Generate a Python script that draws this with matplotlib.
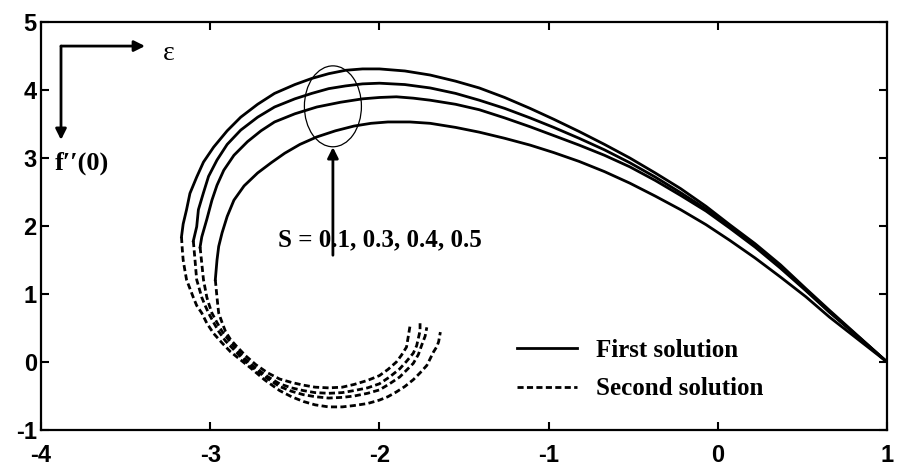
# dual solutions of f''(0) against epsilon for several suction values S

import matplotlib.pyplot as plt
from matplotlib.lines import Line2D
from matplotlib.patches import Ellipse

plt.rcParams['font.family'] = ['Liberation Sans', 'DejaVu Sans']
plt.rcParams['axes.unicode_minus'] = False

s_values = [0.1, 0.3, 0.4, 0.5]

# first (upper) branch, read from x = 1 leftwards
eps_first_s01 = [1.00, 0.83, 0.66, 0.52, 0.37, 0.22, 0.07, -0.07, -0.22, -0.37, -0.52, -0.67, -0.82, -0.97,
                 -1.11, -1.26, -1.41, -1.55, -1.70, -1.85, -2.00, -2.10, -2.20, -2.30, -2.40, -2.50, -2.62,
                 -2.72, -2.82, -2.90, -2.98, -3.04, -3.08, -3.12, -3.14, -3.16, -3.17]
fpp_first_s01 = [0.00, 0.38, 0.76, 1.08, 1.43, 1.74, 2.02, 2.29, 2.55, 2.78, 3.00, 3.20, 3.39, 3.57,
                 3.73, 3.89, 4.03, 4.13, 4.22, 4.28, 4.31, 4.31, 4.29, 4.24, 4.17, 4.08, 3.95,
                 3.79, 3.60, 3.40, 3.16, 2.94, 2.72, 2.48, 2.24, 2.03, 1.84]

eps_first_s03 = [1.00, 0.83, 0.66, 0.52, 0.37, 0.22, 0.07, -0.07, -0.22, -0.37, -0.52, -0.67, -0.82, -0.97,
                 -1.11, -1.26, -1.41, -1.55, -1.70, -1.85, -2.00, -2.10, -2.20, -2.30, -2.40, -2.50, -2.62,
                 -2.72, -2.82, -2.90, -2.96, -3.01, -3.04, -3.07, -3.08, -3.10]
fpp_first_s03 = [0.00, 0.37, 0.74, 1.06, 1.40, 1.71, 1.99, 2.25, 2.49, 2.72, 2.93, 3.12, 3.29, 3.45,
                 3.59, 3.73, 3.85, 3.95, 4.03, 4.08, 4.10, 4.09, 4.06, 4.02, 3.95, 3.87, 3.75,
                 3.60, 3.41, 3.20, 2.97, 2.73, 2.49, 2.24, 1.99, 1.78]

eps_first_s04 = [1.00, 0.83, 0.66, 0.52, 0.37, 0.22, 0.07, -0.07, -0.22, -0.37, -0.52, -0.67, -0.82, -0.97,
                 -1.11, -1.26, -1.41, -1.55, -1.70, -1.80, -1.90, -2.00, -2.10, -2.23, -2.37, -2.50, -2.62,
                 -2.70, -2.78, -2.86, -2.92, -2.96, -2.99, -3.02, -3.05, -3.06]
fpp_first_s04 = [0.00, 0.37, 0.73, 1.05, 1.38, 1.69, 1.97, 2.22, 2.45, 2.67, 2.87, 3.04, 3.19, 3.33,
                 3.46, 3.59, 3.71, 3.79, 3.85, 3.88, 3.90, 3.89, 3.87, 3.82, 3.75, 3.65, 3.53,
                 3.40, 3.24, 3.04, 2.82, 2.60, 2.38, 2.10, 1.84, 1.69]

eps_first_s05 = [1.00, 0.83, 0.66, 0.52, 0.37, 0.22, 0.07, -0.07, -0.22, -0.37, -0.52, -0.67, -0.82, -0.97,
                 -1.11, -1.26, -1.41, -1.55, -1.70, -1.82, -1.95, -2.05, -2.15, -2.26, -2.37, -2.47, -2.56,
                 -2.64, -2.72, -2.80, -2.86, -2.90, -2.93, -2.95, -2.96, -2.97]
fpp_first_s05 = [0.00, 0.33, 0.66, 0.96, 1.25, 1.53, 1.79, 2.02, 2.24, 2.44, 2.63, 2.80, 2.95, 3.08,
                 3.19, 3.29, 3.38, 3.45, 3.51, 3.53, 3.53, 3.51, 3.47, 3.40, 3.31, 3.20, 3.07,
                 2.93, 2.78, 2.59, 2.38, 2.14, 1.90, 1.70, 1.50, 1.21]

# second (lower) branch, continuing from the turning point
eps_second_s01 = [-3.17, -3.165, -3.16, -3.15, -3.14, -3.12, -3.10, -3.08, -3.05, -3.02, -2.98, -2.93,
                  -2.88, -2.82, -2.76, -2.68, -2.59, -2.52, -2.45, -2.38, -2.30, -2.22, -2.15, -2.07,
                  -2.00, -1.95, -1.90, -1.85, -1.80, -1.76, -1.72, -1.70, -1.68, -1.66, -1.65, -1.64]
fpp_second_s01 = [1.84, 1.65, 1.50, 1.35, 1.21, 1.08, 0.95, 0.83, 0.72, 0.57, 0.42, 0.28,
                  0.15, 0.03, -0.09, -0.26, -0.42, -0.51, -0.58, -0.63, -0.66, -0.66, -0.64, -0.61,
                  -0.56, -0.51, -0.44, -0.36, -0.26, -0.16, -0.05, 0.05, 0.15, 0.23, 0.30, 0.44]

eps_second_s03 = [-3.10, -3.095, -3.09, -3.085, -3.08, -3.065, -3.05, -3.03, -3.01, -2.98, -2.95, -2.91,
                  -2.86, -2.81, -2.75, -2.67, -2.59, -2.52, -2.45, -2.38, -2.30, -2.22, -2.15, -2.07,
                  -2.00, -1.94, -1.88, -1.84, -1.80, -1.77, -1.75, -1.73, -1.72]
fpp_second_s03 = [1.78, 1.64, 1.50, 1.35, 1.21, 1.08, 0.95, 0.83, 0.72, 0.58, 0.45, 0.31,
                  0.18, 0.05, -0.08, -0.23, -0.36, -0.43, -0.48, -0.51, -0.53, -0.52, -0.50, -0.46,
                  -0.41, -0.32, -0.22, -0.12, -0.02, 0.11, 0.25, 0.38, 0.51]

eps_second_s04 = [-3.06, -3.055, -3.05, -3.045, -3.04, -3.03, -3.02, -3.005, -2.99, -2.96, -2.93, -2.89,
                  -2.85, -2.80, -2.74, -2.67, -2.59, -2.52, -2.45, -2.38, -2.30, -2.22, -2.15, -2.07,
                  -2.00, -1.94, -1.88, -1.84, -1.80, -1.78, -1.77, -1.76, -1.76]
fpp_second_s04 = [1.69, 1.57, 1.45, 1.33, 1.21, 1.08, 0.95, 0.83, 0.72, 0.58, 0.45, 0.32,
                  0.20, 0.06, -0.07, -0.20, -0.32, -0.38, -0.42, -0.45, -0.46, -0.45, -0.42, -0.38,
                  -0.32, -0.22, -0.10, 0.01, 0.13, 0.24, 0.35, 0.46, 0.57]

eps_second_s05 = [-2.97, -2.965, -2.96, -2.955, -2.95, -2.93, -2.91, -2.88, -2.84, -2.79, -2.73, -2.66,
                  -2.59, -2.52, -2.45, -2.38, -2.30, -2.22, -2.15, -2.07, -2.00, -1.95, -1.90, -1.87,
                  -1.84, -1.83, -1.82]
fpp_second_s05 = [1.21, 1.08, 0.95, 0.83, 0.72, 0.58, 0.45, 0.33, 0.22, 0.09, -0.04, -0.16,
                  -0.25, -0.30, -0.34, -0.37, -0.38, -0.37, -0.33, -0.27, -0.20, -0.11, 0.00, 0.10,
                  0.22, 0.37, 0.52]

first_branch = [(eps_first_s01, fpp_first_s01), (eps_first_s03, fpp_first_s03),
                (eps_first_s04, fpp_first_s04), (eps_first_s05, fpp_first_s05)]
second_branch = [(eps_second_s01, fpp_second_s01), (eps_second_s03, fpp_second_s03),
                 (eps_second_s04, fpp_second_s04), (eps_second_s05, fpp_second_s05)]

dash = (0, (2.2, 1.2))
serif = ['Liberation Serif', 'DejaVu Serif']
head = dict(arrowstyle='-|>', color='k', lw=2, mutation_scale=16, shrinkA=0, shrinkB=0)

fig = plt.figure(figsize=(8.98, 4.71), dpi=100)
ax = fig.add_axes([0.0457, 0.087, 0.9421, 0.8663])

for (x1, y1), (x2, y2) in zip(first_branch, second_branch):
    ax.plot(x1, y1, color='k', lw=2, solid_joinstyle='round')
    ax.plot(x2, y2, color='k', lw=2, ls=dash)

ax.set_xlim(-4, 1)
ax.set_ylim(-1, 5)
ax.set_xticks(range(-4, 2))
ax.set_yticks(range(-1, 6))
ax.tick_params(direction='in', length=6, width=1.5, top=True, right=True,
               labelsize=17, pad=3)
ax.tick_params(axis='x', pad=10)
for lbl in ax.get_xticklabels() + ax.get_yticklabels():
    lbl.set_fontweight('bold')
for sp in ax.spines.values():
    sp.set_linewidth(1.6)

# marker for the S family
ax.add_patch(Ellipse((-2.275, 3.76), 0.337, 1.19, fill=False, lw=0.9, color='k'))
ax.annotate('', xy=(-2.275, 3.16), xytext=(-2.275, 1.57), arrowprops=head)
ax.text(-2.60, 1.79, 'S = ' + ', '.join(str(s) for s in s_values), family=serif,
        fontweight='bold', fontsize=18, va='center', ha='left')

# axis direction arrows
ax.annotate('', xy=(0.1229, 0.941), xytext=(0.0236, 0.941), xycoords='axes fraction',
            arrowprops=head)
ax.annotate('', xy=(0.0236, 0.711), xytext=(0.0236, 0.941), xycoords='axes fraction',
            arrowprops=head)
ax.text(0.1442, 0.924, 'ε', transform=ax.transAxes, family=serif, fontsize=20,
        va='center', ha='left')
ax.text(0.0165, 0.653, 'f′′(0)', transform=ax.transAxes, family=serif, fontsize=19,
        fontweight='bold', va='center', ha='left')

handles = [Line2D([], [], color='k', lw=2), Line2D([], [], color='k', lw=2, ls=dash)]
ax.legend(handles, ['First solution', 'Second solution'], loc='upper left',
          bbox_to_anchor=(0.5626, 0.223), frameon=False, borderpad=0, borderaxespad=0,
          handlelength=2.4, handletextpad=0.76, labelspacing=0.61,
          prop={'family': serif, 'weight': 'bold', 'size': 18})

fig.savefig('out.png', dpi=100)
